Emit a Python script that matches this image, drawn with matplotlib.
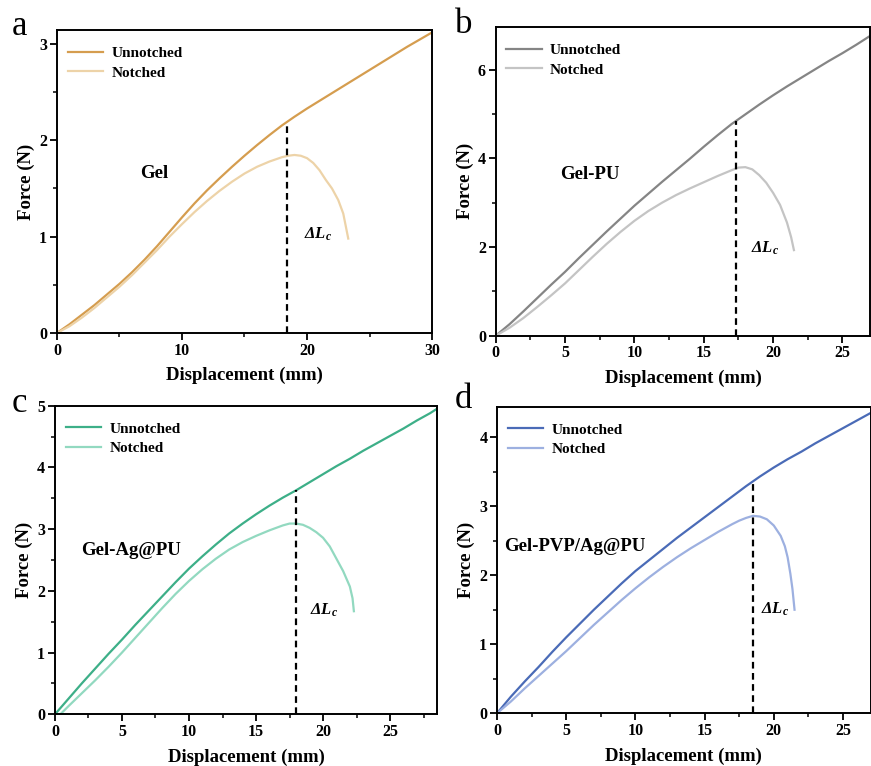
import matplotlib
matplotlib.use("Agg")
import matplotlib.pyplot as plt
from matplotlib.ticker import MultipleLocator

plt.rcParams["font.family"] = ["Liberation Serif", "DejaVu Serif"]
plt.rcParams["mathtext.fontset"] = "custom"
plt.rcParams["mathtext.it"] = "Liberation Serif:italic:bold"
plt.rcParams["mathtext.rm"] = "Liberation Serif:bold"

# ---- data: force (N) vs displacement (mm) ----
# Gel
gel_unnotched_x = [0, 1, 2, 3, 4, 5, 6, 7, 8, 9, 10, 11, 12, 13, 14, 15, 16, 17, 18,
                   19, 20, 21, 22, 23, 24, 25, 26, 27, 28, 29, 30]
gel_unnotched_y = [0, 0.09, 0.19, 0.29, 0.40, 0.51, 0.63, 0.76, 0.90, 1.05, 1.20, 1.345,
                   1.48, 1.605, 1.725, 1.84, 1.95, 2.055, 2.155, 2.245, 2.33, 2.41, 2.49,
                   2.57, 2.65, 2.73, 2.81, 2.89, 2.97, 3.045, 3.12]
gel_notched_x = [0, 1, 2, 3, 4, 5, 6, 7, 8, 9, 10, 11, 12, 13, 14, 15, 16, 17, 18,
                 18.5, 19, 19.5, 20, 20.5, 21, 21.5, 22, 22.5, 22.9, 23.1, 23.3]
gel_notched_y = [0, 0.07, 0.16, 0.26, 0.37, 0.48, 0.60, 0.73, 0.86, 1.00, 1.13, 1.255,
                 1.37, 1.475, 1.57, 1.655, 1.725, 1.78, 1.825, 1.84, 1.848, 1.84, 1.815,
                 1.765, 1.69, 1.59, 1.50, 1.38, 1.24, 1.11, 0.98]
gel_crack_x = 18.4
gel_crack_y = 2.19

# Gel-PU
pu_unnotched_x = [0, 1, 2, 3, 4, 5, 6, 7, 8, 9, 10, 11, 12, 13, 14, 15, 16, 17, 18,
                  19, 20, 21, 22, 23, 24, 25, 26, 27]
pu_unnotched_y = [0, 0.26, 0.55, 0.85, 1.15, 1.44, 1.75, 2.05, 2.35, 2.64, 2.93, 3.20,
                  3.47, 3.73, 3.99, 4.26, 4.52, 4.77, 4.99, 5.21, 5.42, 5.62, 5.81,
                  6.00, 6.19, 6.37, 6.56, 6.76]
pu_notched_x = [0, 1, 2, 3, 4, 5, 6, 7, 8, 9, 10, 11, 12, 13, 14, 15, 16, 17, 17.5,
                18, 18.5, 19, 19.5, 20, 20.5, 21, 21.3, 21.5]
pu_notched_y = [0, 0.18, 0.40, 0.65, 0.91, 1.18, 1.48, 1.78, 2.07, 2.34, 2.59, 2.81,
                3.00, 3.17, 3.32, 3.46, 3.60, 3.73, 3.79, 3.80, 3.75, 3.62, 3.45,
                3.22, 2.95, 2.55, 2.22, 1.93]
pu_crack_x = 17.3
pu_crack_y = 4.85

# Gel-Ag@PU
ag_unnotched_x = [0, 1, 2, 3, 4, 5, 6, 7, 8, 9, 10, 11, 12, 13, 14, 15, 16, 17, 18,
                  19, 20, 21, 22, 23, 24, 25, 26, 27, 28, 28.5]
ag_unnotched_y = [0, 0.25, 0.50, 0.74, 0.98, 1.21, 1.45, 1.68, 1.91, 2.14, 2.36, 2.56,
                  2.75, 2.93, 3.09, 3.24, 3.38, 3.51, 3.63, 3.76, 3.89, 4.02, 4.14,
                  4.27, 4.39, 4.51, 4.63, 4.76, 4.88, 4.95]
ag_notched_x = [0.4, 1, 2, 3, 4, 5, 6, 7, 8, 9, 10, 11, 12, 13, 14, 15, 16, 17, 17.5,
                18, 18.5, 19, 19.5, 20, 20.5, 21, 21.5, 22, 22.2, 22.3]
ag_notched_y = [0, 0.13, 0.34, 0.55, 0.77, 1.00, 1.24, 1.48, 1.72, 1.95, 2.16, 2.35,
                2.52, 2.67, 2.79, 2.89, 2.98, 3.06, 3.09, 3.09, 3.07, 3.02, 2.95,
                2.86, 2.72, 2.52, 2.32, 2.07, 1.88, 1.67]
ag_crack_x = 18.0
ag_crack_y = 3.63

# Gel-PVP/Ag@PU
pvp_unnotched_x = [0, 1, 2, 3, 4, 5, 6, 7, 8, 9, 10, 11, 12, 13, 14, 15, 16, 17, 18,
                   18.5, 19, 20, 21, 22, 23, 24, 25, 26, 27]
pvp_unnotched_y = [0, 0.24, 0.46, 0.67, 0.89, 1.10, 1.30, 1.50, 1.69, 1.88, 2.06, 2.22,
                   2.38, 2.54, 2.69, 2.84, 2.99, 3.14, 3.29, 3.36, 3.43, 3.56, 3.68,
                   3.79, 3.91, 4.02, 4.13, 4.24, 4.35]
pvp_notched_x = [0, 1, 2, 3, 4, 5, 6, 7, 8, 9, 10, 11, 12, 13, 14, 15, 16, 17, 17.5,
                 18, 18.5, 19, 19.5, 20, 20.5, 20.8, 21, 21.2, 21.35, 21.5]
pvp_notched_y = [0, 0.17, 0.36, 0.54, 0.72, 0.90, 1.09, 1.28, 1.46, 1.64, 1.81, 1.97,
                 2.12, 2.26, 2.39, 2.51, 2.63, 2.74, 2.79, 2.83, 2.86, 2.85, 2.81,
                 2.72, 2.57, 2.42, 2.26, 2.02, 1.80, 1.50]
pvp_crack_x = 18.5
pvp_crack_y = 3.36

panels = [
    dict(letter="a", name="Gel", ux=gel_unnotched_x, uy=gel_unnotched_y,
         nx=gel_notched_x, ny=gel_notched_y, cx=gel_crack_x, cy=gel_crack_y,
         c1="#D59D4F", c2="#EDD3A8", xlim=(0, 30), ylim=(0, 3.145),
         xmaj=10, xmin=5, ymaj=1, ymin=0.5,
         rect=[0.0654, 0.5653, 0.4306, 0.3955],
         name_xy=(7.8, 1.66), dl_xy=(20.9, 1.02), letter_xy=(0.013, 0.966)),
    dict(letter="b", name="Gel-PU", ux=pu_unnotched_x, uy=pu_unnotched_y,
         nx=pu_notched_x, ny=pu_notched_y, cx=pu_crack_x, cy=pu_crack_y,
         c1="#858585", c2="#C4C4C4", xlim=(0, 27), ylim=(0, 6.96),
         xmaj=5, xmin=2.5, ymaj=2, ymin=1,
         rect=[0.5691, 0.5617, 0.4300, 0.4031],
         name_xy=(6.8, 3.63), dl_xy=(19.4, 1.98), letter_xy=(0.522, 0.968)),
    dict(letter="c", name="Gel-Ag@PU", ux=ag_unnotched_x, uy=ag_unnotched_y,
         nx=ag_notched_x, ny=ag_notched_y, cx=ag_crack_x, cy=ag_crack_y,
         c1="#3DAF88", c2="#92D9C0", xlim=(0, 28.5), ylim=(0, 5),
         xmaj=5, xmin=2.5, ymaj=1, ymin=0.5,
         rect=[0.0631, 0.0675, 0.4386, 0.4029],
         name_xy=(5.7, 2.65), dl_xy=(20.1, 1.69), letter_xy=(0.013, 0.473)),
    dict(letter="d", name="Gel-PVP/Ag@PU", ux=pvp_unnotched_x, uy=pvp_unnotched_y,
         nx=pvp_notched_x, ny=pvp_notched_y, cx=pvp_crack_x, cy=pvp_crack_y,
         c1="#4A6BB7", c2="#9DB0E0", xlim=(0, 27), ylim=(0, 4.44),
         xmaj=5, xmin=2.5, ymaj=1, ymin=0.5,
         rect=[0.5706, 0.0688, 0.4290, 0.4002],
         name_xy=(5.65, 2.41), dl_xy=(20.1, 1.51), letter_xy=(0.522, 0.479)),
]

fig = plt.figure(figsize=(8.71, 7.66), dpi=100)

for p in panels:
    ax = fig.add_axes(p["rect"])
    ax.plot(p["ux"], p["uy"], color=p["c1"], lw=1.6, label="Unnotched",
            solid_joinstyle="round")
    ax.plot(p["nx"], p["ny"], color=p["c2"], lw=1.6, label="Notched",
            solid_joinstyle="round")
    ax.plot([p["cx"], p["cx"]], [0, p["cy"]], color="black", lw=1.6,
            linestyle=(0, (3, 2)))
    ax.set_xlim(*p["xlim"])
    ax.set_ylim(*p["ylim"])
    ax.xaxis.set_major_locator(MultipleLocator(p["xmaj"]))
    ax.xaxis.set_minor_locator(MultipleLocator(p["xmin"]))
    ax.yaxis.set_major_locator(MultipleLocator(p["ymaj"]))
    ax.yaxis.set_minor_locator(MultipleLocator(p["ymin"]))
    ax.tick_params(which="major", direction="out", length=5, width=1.3,
                   labelsize=11.5, pad=2)
    ax.tick_params(which="minor", direction="out", length=3, width=1.1)
    for lab in ax.get_xticklabels() + ax.get_yticklabels():
        lab.set_fontweight("bold")
    for s in ax.spines.values():
        s.set_linewidth(1.4)
    ax.set_xlabel("Displacement (mm)", fontsize=13.5, fontweight="bold", labelpad=6)
    ax.set_ylabel("Force (N)", fontsize=13.5, fontweight="bold", labelpad=3)
    ax.legend(loc="upper left", bbox_to_anchor=(0.0, 0.982), frameon=False,
              prop=dict(size=11, weight="bold"), handlelength=2.3,
              handletextpad=0.55, labelspacing=0.4, borderaxespad=0.3)
    ax.text(*p["name_xy"], p["name"], fontsize=13.5, fontweight="bold",
            ha="center", va="center")
    ax.text(*p["dl_xy"], "ΔL$_c$", fontsize=12, fontweight="bold",
            fontstyle="italic", ha="center", va="center")
    fig.text(*p["letter_xy"], p["letter"], fontsize=25, ha="left", va="center")

fig.savefig("out.png", dpi=100)
